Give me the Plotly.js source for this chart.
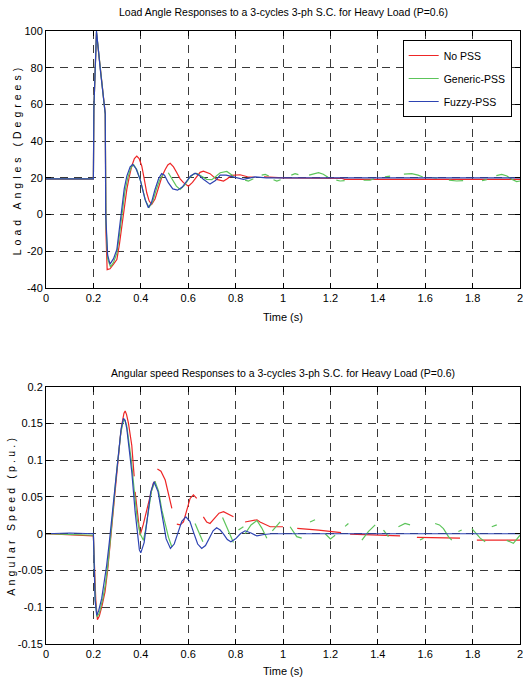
<!DOCTYPE html>
<html>
<head>
<meta charset="utf-8">
<script src="https://cdn.plot.ly/plotly-3.0.1.min.js"></script>
<style>
  html, body { margin: 0; padding: 0; background: #fff; }
  #chart { width: 523px; height: 690px; }
  /* spaced-out lettering of the vertical axis titles */
  .ytitle { letter-spacing: 4px; }
  .y2title { letter-spacing: 3.2px; }
</style>
</head>
<body>
<div id="chart"></div>
<script>
// ---- Load angle (degrees) after the 3-cycle fault at t = 0.2 s ----
const tAngleNoPss = [0, 0.2, 0.202, 0.213, 0.25, 0.253, 0.258, 0.27, 0.285, 0.299, 0.31, 0.32, 0.33, 0.341, 0.352, 0.362, 0.373, 0.383, 0.393, 0.404, 0.415, 0.425, 0.435, 0.446, 0.46, 0.474, 0.49, 0.503, 0.514, 0.524, 0.538, 0.552, 0.566, 0.58, 0.601, 0.618, 0.636, 0.65, 0.664, 0.678, 0.692, 0.72, 0.749, 0.765, 0.784, 0.819, 0.85, 0.88, 0.9, 0.92, 0.98, 1.0, 1.25, 1.26, 2.0];
const angleNoPss  = [19.3, 19.3, 58, 99, 55, -10, -30, -29.5, -27, -24.5, -16, -6.3, 4, 13.7, 21, 26.5, 30.5, 31.9, 30.5, 26.5, 19, 11.9, 7.5, 5.5, 8.5, 14.6, 21, 24.6, 27, 27.9, 26, 22.8, 19.5, 17.4, 15.5, 17.5, 21, 23, 23.7, 23.2, 22.3, 19.2, 18.3, 19.5, 21.4, 21.7, 20.6, 20.3, null, 20.5, 20.3, 20, 19.7, 19.2, 19.2];

const tAngleGeneric = [0, 0.2, 0.202, 0.213, 0.25, 0.253, 0.26, 0.272, 0.285, 0.299, 0.31, 0.322, 0.333, 0.345, 0.358, 0.37, 0.383, 0.4, 0.42, 0.435, 0.45, 0.465, 0.48, 0.493, 0.505, 0.516, 0.53, 0.55, 0.566, 0.585, 0.605, 0.622, 0.636, 0.655, 0.678, 0.7, 0.72, 0.735, 0.763, 0.79, 0.81, 0.84, 0.854, 0.875, 0.89, 0.91, 0.925, 0.94, 0.95, 0.96, 0.974, 0.99, 1.01, 1.035, 1.051, 1.065, 1.09, 1.11, 1.128, 1.15, 1.17, 1.19, 1.21, 1.225, 1.241, 1.26, 1.3, 1.34, 1.367, 1.385, 1.41, 1.43, 1.452, 1.48, 1.51, 1.543, 1.57, 1.59, 1.61, 1.63, 1.649, 1.67, 1.7, 1.733, 1.76, 1.8, 1.84, 1.86, 1.88, 1.9, 1.923, 1.945, 1.965, 1.986, 2.0];
const angleGeneric  = [19.5, 19.5, 58, 99.5, 54.5, -5, -24, -28.5, -26, -21, -11, 2, 12.5, 20, 25.5, 27.2, 24.5, 18, 7.5, 4, 7, 13.5, 19, 21.5, null, 22.8, 20, 15.5, 13.7, 16, 20, 22, 22.5, 21, 19.2, 19, 21, 22.8, 23.5, 21, null, 18.8, 18.3, 19.5, null, 21.5, 21.9, 21, null, 19, 18.3, 19, null, 21.5, 22.3, 21.8, null, 21.5, 22, 22.8, 22, 20.3, null, 18.8, 18.3, 18.5, null, 18.7, 18.7, 19.5, null, 20.5, 21, null, 22, 22.3, 21.5, 20.5, null, 20.2, 19.8, null, 18.8, 18.3, 18.5, null, 18.5, 19, null, 21.2, 21.9, 21, 19.2, 18, 18.3];

const tAngleFuzzy = [0, 0.2, 0.202, 0.213, 0.23, 0.25, 0.252, 0.26, 0.27, 0.285, 0.299, 0.31, 0.32, 0.33, 0.341, 0.355, 0.366, 0.38, 0.397, 0.418, 0.432, 0.445, 0.46, 0.475, 0.488, 0.5, 0.516, 0.535, 0.555, 0.575, 0.594, 0.61, 0.629, 0.645, 0.664, 0.692, 0.715, 0.735, 0.76, 0.79, 0.833, 0.882, 0.93, 1.0, 2.0];
const angleFuzzy  = [19.5, 19.5, 58, 100, 78, 55, 0, -22, -27, -24, -19, -8, 4.6, 14, 21, 26, 27.4, 25, 19.2, 8.3, 3.7, 6.5, 13.7, 19.5, 22.3, 21.5, 17.4, 14, 13.3, 15, 18.3, 21, 22.5, 21.5, 19.2, 16.6, 18.5, 21.5, 21.5, 20.6, 19.2, 20.5, 20, 20, 20];

// ---- Angular speed deviation (p.u.) ----
const tSpeedNoPss = [0, 0.1, 0.2, 0.203, 0.21, 0.217, 0.225, 0.237, 0.249, 0.26, 0.27, 0.281, 0.292, 0.303, 0.313, 0.322, 0.329, 0.334, 0.34, 0.348, 0.355, 0.362, 0.372, 0.374, 0.376, 0.386, 0.397, 0.41, 0.425, 0.44, 0.453, 0.462, 0.465, 0.47, 0.485, 0.503, 0.517, 0.531, 0.54, 0.552, 0.566, 0.58, 0.594, 0.608, 0.622, 0.636, 0.65, 0.664, 0.678, 0.692, 0.71, 0.73, 0.749, 0.77, 0.791, 0.81, 0.84, 0.865, 0.89, 0.903, 0.946, 1.0, 1.03, 1.06, 1.15, 1.245, 1.265, 1.283, 1.494, 1.53, 1.565, 1.65, 1.747, 1.78, 1.818, 2.0];
const speedNoPss  = [0, -0.002, -0.003, -0.03, -0.09, -0.117, -0.112, -0.097, -0.079, -0.05, -0.015, 0.025, 0.066, 0.1, 0.13, 0.152, 0.164, 0.167, 0.162, 0.15, 0.134, 0.12, 0.078, null, 0.057, 0.025, -0.002, 0.012, 0.032, 0.055, 0.069, 0.071, null, 0.088, 0.085, 0.073, 0.055, 0.0345, null, 0.013, 0.012, 0.016, 0.032, 0.048, 0.053, 0.048, null, 0.023, 0.016, 0.014, 0.02, 0.028, 0.03, 0.027, 0.023, null, 0.016, 0.018, 0.019, 0.016, 0.0095, 0.0095, null, 0.0073, 0.005, 0.0014, null, -0.0004, -0.003, null, -0.005, -0.005, -0.006, null, -0.0086, -0.0086];

const tSpeedGeneric = [0, 0.1, 0.2, 0.203, 0.208, 0.215, 0.225, 0.24, 0.25, 0.262, 0.273, 0.284, 0.295, 0.306, 0.316, 0.326, 0.332, 0.34, 0.35, 0.36, 0.372, 0.385, 0.397, 0.405, 0.411, 0.42, 0.43, 0.445, 0.46, 0.475, 0.489, 0.503, 0.517, 0.531, 0.58, 0.629, 0.645, 0.662, 0.7, 0.745, 0.768, 0.791, 0.8, 0.812, 0.833, 0.837, 0.84, 0.865, 0.89, 0.91, 0.932, 0.945, 0.955, 0.975, 0.988, 1.01, 1.03, 1.045, 1.058, 1.079, 1.1, 1.114, 1.135, 1.16, 1.178, 1.2, 1.22, 1.24, 1.262, 1.276, 1.3, 1.333, 1.36, 1.389, 1.41, 1.424, 1.445, 1.47, 1.487, 1.515, 1.536, 1.56, 1.578, 1.593, 1.62, 1.642, 1.66, 1.677, 1.698, 1.712, 1.725, 1.74, 1.754, 1.78, 1.797, 1.815, 1.832, 1.853, 1.87, 1.881, 1.902, 1.92, 1.944, 1.972, 2.0];
const speedGeneric  = [0, -0.001, -0.002, -0.035, -0.09, -0.113, -0.108, -0.088, -0.07, -0.04, -0.005, 0.035, 0.075, 0.11, 0.138, 0.153, 0.155, 0.148, 0.125, 0.1, 0.06, 0.02, 0.0, -0.006, -0.009, 0.005, 0.025, 0.058, 0.071, 0.058, 0.032, 0.015, -0.005, -0.018, null, 0.014, 0.002, -0.011, null, 0.022, 0.005, -0.012, null, 0.005, 0.0095, null, 0.0, 0.012, 0.018, 0.008, -0.006, null, 0.004, 0.012, 0.016, null, 0.0095, 0.002, -0.004, -0.006, null, 0.016, 0.019, null, 0.0, -0.007, -0.002, null, 0.01, 0.014, null, -0.0086, 0.003, 0.012, null, 0.005, -0.004, null, 0.0095, 0.014, 0.012, null, -0.0086, -0.006, null, 0.014, 0.012, 0.007, -0.004, -0.0086, null, 0.003, 0.005, null, 0.007, 0.0, -0.006, -0.011, null, 0.0095, 0.012, null, -0.009, -0.013, -0.002];

const tSpeedFuzzy = [0, 0.1, 0.2, 0.203, 0.207, 0.214, 0.222, 0.235, 0.245, 0.256, 0.267, 0.278, 0.289, 0.299, 0.308, 0.317, 0.327, 0.334, 0.341, 0.352, 0.362, 0.376, 0.386, 0.394, 0.4, 0.414, 0.428, 0.442, 0.456, 0.473, 0.49, 0.507, 0.525, 0.541, 0.557, 0.573, 0.59, 0.607, 0.623, 0.64, 0.657, 0.673, 0.689, 0.705, 0.72, 0.735, 0.75, 0.765, 0.78, 0.8, 0.82, 0.84, 0.865, 0.89, 0.92, 0.95, 2.0];
const speedFuzzy  = [0, 0.001, 0, -0.04, -0.09, -0.111, -0.105, -0.088, -0.068, -0.043, -0.012, 0.021, 0.058, 0.093, 0.12, 0.143, 0.157, 0.154, 0.143, 0.115, 0.084, 0.03, 0.0, -0.022, -0.026, -0.012, 0.022, 0.057, 0.0707, 0.057, 0.025, -0.007, -0.02, -0.014, 0.0015, 0.017, 0.023, 0.017, 0.0015, -0.014, -0.02, -0.016, -0.006, 0.004, 0.008, 0.005, -0.001, -0.008, -0.011, -0.007, 0, 0.004, 0.001, -0.003, -0.001, 0, 0];

// ---- axis ticks ----
const timeTicks = [0, 0.2, 0.4, 0.6, 0.8, 1, 1.2, 1.4, 1.6, 1.8, 2];
const timeTickText = ['0', '0.2', '0.4', '0.6', '0.8', '1', '1.2', '1.4', '1.6', '1.8', '2'];
const angleTicks = [-40, -20, 0, 20, 40, 60, 80, 100];
const angleTickText = ['-40', '-20', '0', '20', '40', '60', '80', '100'];
const speedTicks = [-0.15, -0.1, -0.05, 0, 0.05, 0.1, 0.15, 0.2];
const speedTickText = ['-0.15', '-0.1', '-0.05', '0', '0.05', '0.1', '0.15', '0.2'];

const seriesNames = ['No PSS', 'Generic-PSS', 'Fuzzy-PSS'];
const seriesColors = ['#ee2626', '#5cc45a', '#2d43b2'];

const FONT = '"Liberation Sans Narrow", "Arial Narrow", "Liberation Sans", Arial, sans-serif';

const angleT = [tAngleNoPss, tAngleGeneric, tAngleFuzzy];
const angleY = [angleNoPss, angleGeneric, angleFuzzy];
const speedT = [tSpeedNoPss, tSpeedGeneric, tSpeedFuzzy];
const speedY = [speedNoPss, speedGeneric, speedFuzzy];

const traces = [];
for (let i = 0; i < 3; i++) {
  traces.push({
    x: angleT[i], y: angleY[i], type: 'scatter', mode: 'lines',
    name: seriesNames[i], legendgroup: 'g' + i,
    line: { color: seriesColors[i], width: 1.2 },
    xaxis: 'x', yaxis: 'y', connectgaps: false
  });
}
for (let i = 0; i < 3; i++) {
  traces.push({
    x: speedT[i], y: speedY[i], type: 'scatter', mode: 'lines',
    name: seriesNames[i], legendgroup: 'g' + i, showlegend: false,
    line: { color: seriesColors[i], width: 1.2 },
    xaxis: 'x2', yaxis: 'y2', connectgaps: false
  });
}

function axisBase() {
  return {
    showline: true, linecolor: '#000', linewidth: 1, mirror: 'ticks',
    ticks: 'inside', ticklen: 5, tickcolor: '#000', tickwidth: 1,
    showgrid: true, gridcolor: '#3a3a3a', gridwidth: 1, griddash: '8px,6px',
    zeroline: false, tickfont: { family: FONT, size: 11, color: '#000' },
    tickmode: 'array', ticklabeloverflow: 'allow', fixedrange: true
  };
}

const layout = {
  width: 523, height: 690,
  margin: { l: 46, r: 3, t: 31, b: 46 },
  paper_bgcolor: '#fff', plot_bgcolor: '#fff',
  font: { family: FONT, size: 11, color: '#000' },
  showlegend: true,
  legend: {
    x: 0.7525, y: 0.9853, xanchor: 'left', yanchor: 'top',
    bgcolor: '#fff', bordercolor: '#000', borderwidth: 1,
    font: { family: FONT, size: 10.5, color: '#000' },
    traceorder: 'grouped', tracegroupgap: 4
  },
  xaxis: Object.assign(axisBase(), {
    domain: [0, 1], range: [0, 2], anchor: 'y',
    tickvals: timeTicks, ticktext: timeTickText,
    title: { text: 'Time (s)', font: { family: FONT, size: 11 }, standoff: 10 }
  }),
  yaxis: Object.assign(axisBase(), {
    domain: [0.5807, 1], range: [-40, 100], anchor: 'x',
    tickvals: angleTicks, ticktext: angleTickText,
    title: { text: 'Load Angles (Degrees)', font: { family: FONT, size: 10.5 }, standoff: 0 }
  }),
  xaxis2: Object.assign(axisBase(), {
    domain: [0, 1], range: [0, 2], anchor: 'y2',
    tickvals: timeTicks, ticktext: timeTickText,
    title: { text: 'Time (s)', font: { family: FONT, size: 11 }, standoff: 8 }
  }),
  yaxis2: Object.assign(axisBase(), {
    domain: [0, 0.4197], range: [-0.15, 0.2], anchor: 'x2',
    tickvals: speedTicks, ticktext: speedTickText,
    title: { text: 'Angular Speed (p.u.)', font: { family: FONT, size: 10.5 }, standoff: 0 }
  }),
  annotations: [
    {
      text: 'Load Angle Responses to a 3-cycles 3-ph S.C. for Heavy Load (P=0.6)',
      xref: 'paper', yref: 'paper', x: 0.5, y: 1, yshift: 19,
      xanchor: 'center', yanchor: 'middle', showarrow: false,
      font: { family: FONT, size: 10.5, color: '#000' }
    },
    {
      text: 'Angular speed Responses to a 3-cycles 3-ph S.C. for Heavy Load (P=0.6)',
      xref: 'paper', yref: 'paper', x: 0.5, y: 0.4197, yshift: 14,
      xanchor: 'center', yanchor: 'middle', showarrow: false,
      font: { family: FONT, size: 10.5, color: '#000' }
    }
  ]
};

Plotly.newPlot('chart', traces, layout, { displayModeBar: false, staticPlot: true });
</script>
</body>
</html>
